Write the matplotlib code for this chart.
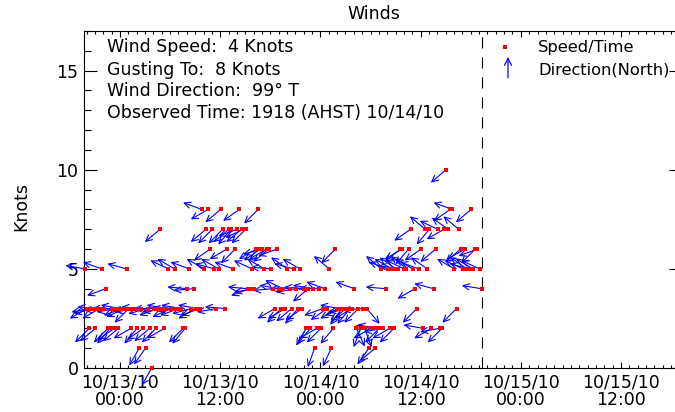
import numpy as np
import pandas as pd
import matplotlib
matplotlib.use('Agg')
import matplotlib.pyplot as plt
import matplotlib.dates as mdates
from matplotlib.ticker import MultipleLocator, FixedLocator
from datetime import datetime

plt.rcParams['font.family'] = ['DejaVu Sans']

# wind speed (knots), one row per hour, 15 min readings from 10/12/10 19:48
speed = [5, 3, 2, 3,  3, 2, 3, 3,  5, 3, 4, 2,  2, 3, 2, 3,
         2, 3, 3, 3,  5, 3, 2, 3,  3, 2, 1, 3,  2, 1, 3, 2,
         0, 3, 2, 3,  7, 3, 2, 3,  5, 3, 3, 5,  3, 3, 3, 2,
         2, 4, 5, 3,  4, 3, 3, 3,  8, 5, 7, 8,  6, 7, 5, 3,
         5, 8, 7, 3,  6, 7, 7, 5,  6, 7, 8, 7,  7, 7, 4, 4,
         5, 4, 6, 8,  6, 6, 5, 6,  6, 5, 4, 3,  6, 4, 3, 4,
         3, 5, 4, 3,  5, 4, 3, 5,  3, 4, 2, 4,  2, 4, 1, 2,
         4, 2, 3, 4,  3, 5, 1, 2,  6, 3, 3, 3,  3, 3, 3, 3,
         3, 4, 2, 3,  2, 3, 2, 3,  1, 2, 2, 1,  2, 2, 5, 2,
         4, 5, 2, 5,  2, 5, 5, 6,  6, 5, 5, 6,  7, 5, 4, 3,
         5, 6, 2, 7,  5, 7, 2, 4,  6, 7, 2, 2,  7, 10, 7, 8,
         8, 5, 3, 7,  6, 5, 6, 5,  5, 8, 5, 6,  6, 5, 4]

# wind direction (degrees true, direction wind comes from)
direction = [100, 60, 45, 80,  75, 50, 95, 60,  110, 85, 70, 45,  40, 90, 55, 80,
             50, 100, 70, 65,  105, 45, 60, 85,  80, 40, 30, 95,  55, 35, 75, 50,
             30, 90, 45, 70,  50, 80, 60, 100,  115, 65, 90, 120,  85, 70, 100, 45,
             40, 95, 110, 75,  85, 60, 100, 70,  110, 120, 50, 60,  55, 45, 105, 80,
             120, 50, 45, 95,  60, 50, 40, 110,  45, 70, 55, 50,  65, 45, 95, 70,
             115, 80, 60, 45,  55, 75, 120, 60,  50, 95, 85, 60,  70, 100, 45, 115,
             60, 125, 90, 50,  105, 80, 40, 120,  55, 95, 30, 50,  40, 100, 20, 60,
             90, 45, 70, 110,  55, 130, 25, 40,  45, 60, 100, 35,  70, 50, 80, 40,
             60, 110, 335, 45,  20, 85, 340, 320,  35, 60, 95, 50,  100, 45, 130, 80,
             95, 110, 60, 120,  45, 125, 100, 50,  60, 115, 130, 40,  55, 120, 60, 45,
             110, 55, 100, 130,  125, 40, 60, 105,  50, 115, 80, 45,  60, 50, 125, 55,
             110, 120, 45, 130,  50, 115, 60, 125,  105, 50, 120, 45,  70, 115, 99]

info_lines = ['Wind Speed:  4 Knots',
              'Gusting To:  8 Knots',
              'Wind Direction:  99\u00b0 T',
              'Observed Time: 1918 (AHST) 10/14/10']

tick_times = [datetime(2010, 10, 13, 0), datetime(2010, 10, 13, 12),
              datetime(2010, 10, 14, 0), datetime(2010, 10, 14, 12),
              datetime(2010, 10, 15, 0), datetime(2010, 10, 15, 12)]
tick_labels = ['10/13/10\n00:00', '10/13/10\n12:00', '10/14/10\n00:00',
               '10/14/10\n12:00', '10/15/10\n00:00', '10/15/10\n12:00']

now = datetime(2010, 10, 14, 19, 18)
times = pd.date_range('2010-10-12 19:48', periods=len(speed), freq='15min')
tnum = mdates.date2num(times.to_pydatetime())

fig = plt.figure(figsize=(6.75, 4.12), dpi=100)
ax = fig.add_axes([84/675, 44/412, 598/675, 337/412])

# arrows, fixed length in screen space, pointing where the wind blows to
L = 14.4
for t, s, d in zip(tnum, speed, direction):
    a = np.radians(d + 180)
    ax.annotate('', xy=(t, s), xytext=(L*np.sin(a), L*np.cos(a)),
                textcoords='offset points', annotation_clip=False,
                arrowprops=dict(arrowstyle='<-, head_length=0.45, head_width=0.22',
                                color='blue', lw=0.8, shrinkA=0, shrinkB=0))

ax.plot(tnum, speed, 's', color='red', markersize=2.8, markeredgewidth=0,
        clip_on=False, zorder=5)

ax.axvline(mdates.date2num(now), color='black', lw=0.8, ls=(0, (10, 8)))

ax.set_xlim(mdates.date2num(datetime(2010, 10, 12, 19, 41)),
            mdates.date2num(datetime(2010, 10, 15, 19, 18)))
ax.set_ylim(0, 17)

ax.xaxis.set_major_locator(FixedLocator(mdates.date2num(tick_times)))
ax.xaxis.set_minor_locator(mdates.HourLocator())
ax.set_xticklabels(tick_labels)
ax.yaxis.set_major_locator(MultipleLocator(5))
ax.yaxis.set_minor_locator(MultipleLocator(1))

ax.tick_params(which='both', direction='in', top=True, right=True, width=0.8,
               labelsize=12.5, colors='black')
ax.tick_params(axis='x', which='major', length=4.5, pad=4)
ax.tick_params(axis='x', which='minor', length=2.5)
ax.tick_params(axis='y', which='major', length=9.5, pad=4)
ax.tick_params(axis='y', which='minor', length=5)
for lbl in ax.get_xticklabels():
    lbl.set_linespacing(0.95)
for sp in ax.spines.values():
    sp.set_linewidth(0.8)

ax.set_title('Winds', fontsize=12.5, x=0.485, pad=9)
ax.set_ylabel('Knots', fontsize=12.5)
ax.yaxis.set_label_coords(-0.09, 0.48)

for i, line in enumerate(info_lines):
    ax.text(0.0385, [0.9525, 0.884, 0.822, 0.757][i], line, transform=ax.transAxes,
            fontsize=12.5, va='center', ha='left')

# legend
ax.plot([0.704], [0.9525], 's', color='red', markersize=2.8, markeredgewidth=0,
        transform=ax.transAxes)
ax.annotate('', xy=(0.709, 0.923), xytext=(0.709, 0.861),
            xycoords='axes fraction', textcoords='axes fraction',
            arrowprops=dict(arrowstyle='->, head_length=0.5, head_width=0.25',
                            color='blue', lw=0.9, shrinkA=0, shrinkB=0))
ax.text(0.759, 0.9525, 'Speed/Time', transform=ax.transAxes, fontsize=11.7,
        va='center', ha='left')
ax.text(0.759, 0.884, 'Direction(North)', transform=ax.transAxes, fontsize=11.7,
        va='center', ha='left')

fig.savefig('out.png', dpi=100)
